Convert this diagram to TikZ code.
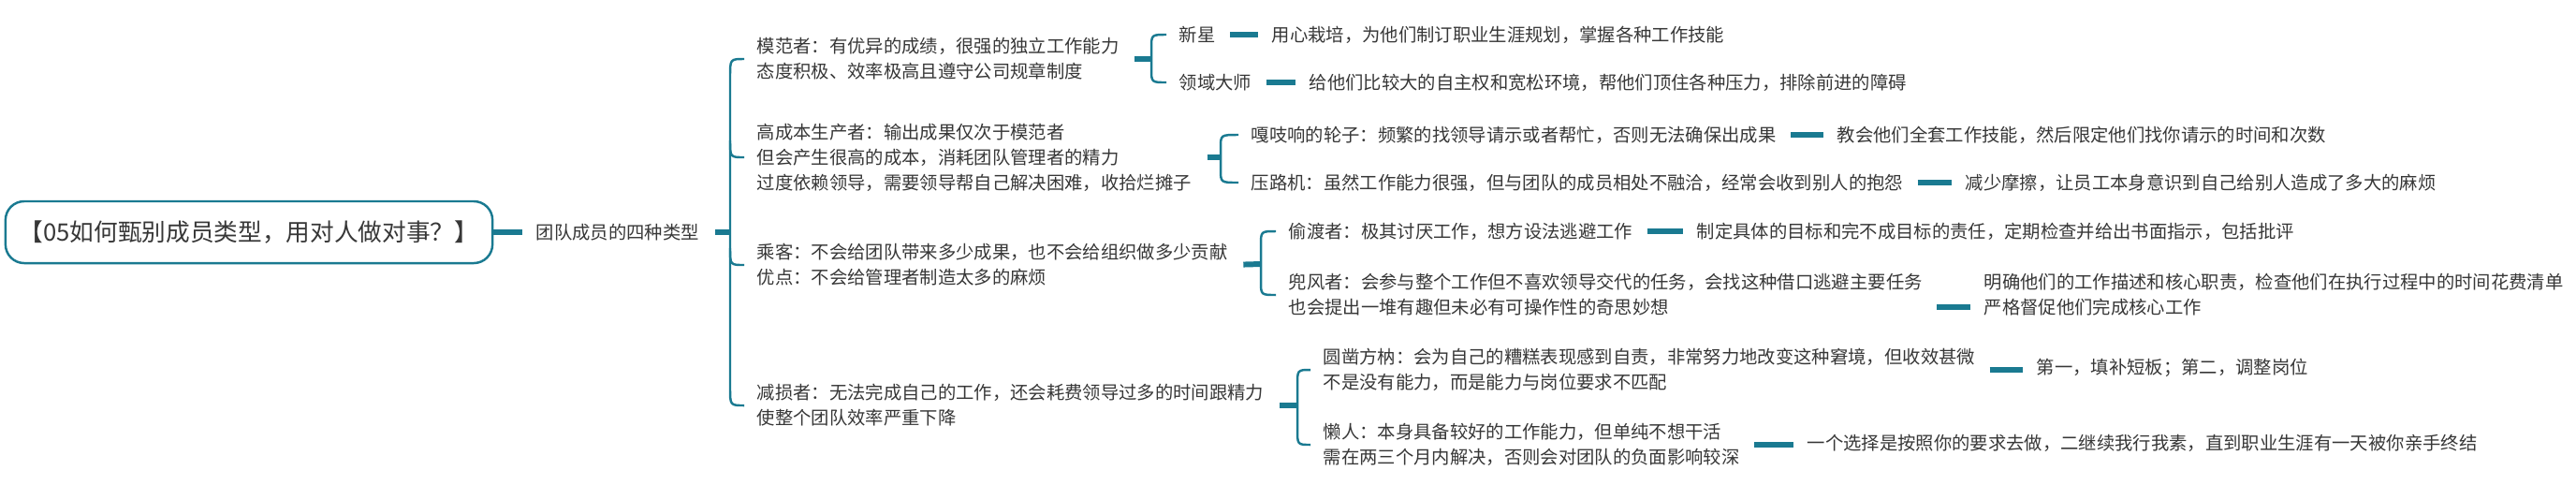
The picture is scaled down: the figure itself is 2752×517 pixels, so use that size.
\documentclass[tikz,border=0pt]{standalone}
\usepackage{fontspec}
\newfontfamily\cjk{Noto Sans CJK SC}
\definecolor{teal}{RGB}{26,122,145}
\definecolor{ink}{RGB}{55,55,55}

\begin{document}
\begin{tikzpicture}[x=0.01cm, y=-0.01cm,
    txt/.style={anchor=west, inner sep=0pt, align=left, text=ink,
      font=\cjk\fontsize{5.5pt}{7.7pt}\selectfont},
    rootbox/.style={draw=teal, line width=0.7pt, rounded corners=0.2cm,
      minimum width=5.2cm, minimum height=0.66cm, inner sep=0pt, text=ink,
      font=\cjk\fontsize{7.3pt}{9pt}\selectfont},
    conn/.style={teal, line width=1.7pt, shorten <=0.15cm, shorten >=0.14cm},
    stub/.style={teal, line width=1.7pt, shorten <=0.16cm},
    brace/.style={teal, line width=0.7pt}
  ]
  \useasboundingbox (0,0) rectangle (2752,517);

  % -- 1. ROOT --
  \node[rootbox] (root) at (266,248) {【05如何甄别成员类型，用对人做对事？】};
  \node[txt] (types) at (572,248) {团队成员的四种类型};
  \draw[teal, line width=1.7pt, shorten >=0.14cm] (root.east) -- (types.west);

  % -- 2. FOUR TYPES --
  \node[txt] (m1) at (808,63) {模范者：有优异的成绩，很强的独立工作能力\\态度积极、效率极高且遵守公司规章制度};
  \node[txt] (m2) at (808,168) {高成本生产者：输出成果仅次于模范者\\但会产生很高的成本，消耗团队管理者的精力\\过度依赖领导，需要领导帮自己解决困难，收拾烂摊子};
  \node[txt] (m3) at (808,283) {乘客：不会给团队带来多少成果，也不会给组织做多少贡献\\优点：不会给管理者制造太多的麻烦};
  \node[txt] (m4) at (808,433) {减损者：无法完成自己的工作，还会耗费领导过多的时间跟精力\\使整个团队效率严重下降};

  \coordinate (b1) at (780,248);
  \draw[stub] (types.east) -- (b1);
  \draw[brace] ([xshift=-0.13cm]m1.west) .. controls (780,63) .. (780,82) -- (780,414)
    .. controls (780,433) .. ([xshift=-0.13cm]m4.west);
  \draw[brace] (780,150) .. controls (780,168) .. ([xshift=-0.13cm]m2.west);
  \draw[brace] (780,265) .. controls (780,283) .. ([xshift=-0.13cm]m3.west);

  % -- 3. SUB TYPES --
  % model
  \node[txt] (s1) at (1259,37) {新星};
  \node[txt] (s2) at (1259,88) {领域大师};
  \coordinate (b2) at (1230,63);
  \draw[stub] (m1.east) -- (b2);
  \draw[brace] ([xshift=-0.13cm]s1.west) .. controls (1230,37) .. (1230,52) -- (1230,73)
    .. controls (1230,88) .. ([xshift=-0.13cm]s2.west);
  \node[txt] (l1) at (1358,37) {用心栽培，为他们制订职业生涯规划，掌握各种工作技能};
  \node[txt] (l2) at (1398,88) {给他们比较大的自主权和宽松环境，帮他们顶住各种压力，排除前进的障碍};
  \draw[conn] (s1.east) -- (l1.west);
  \draw[conn] (s2.east) -- (l2.west);

  % high cost
  \node[txt] (c1) at (1336,144) {嘎吱响的轮子：频繁的找领导请示或者帮忙，否则无法确保出成果};
  \node[txt] (c2) at (1336,195) {压路机：虽然工作能力很强，但与团队的成员相处不融洽，经常会收到别人的抱怨};
  \coordinate (b3) at (1304,168);
  \draw[stub] (m2.east) -- (b3);
  \draw[brace] ([xshift=-0.13cm]c1.west) .. controls (1304,144) .. (1304,158) -- (1304,181)
    .. controls (1304,195) .. ([xshift=-0.13cm]c2.west);
  \node[txt] (l3) at (1962,144) {教会他们全套工作技能，然后限定他们找你请示的时间和次数};
  \node[txt] (l4) at (2099,195) {减少摩擦，让员工本身意识到自己给别人造成了多大的麻烦};
  \draw[conn] (c1.east) -- (l3.west);
  \draw[conn] (c2.east) -- (l4.west);

  % passenger
  \node[txt] (c3) at (1376,247) {偷渡者：极其讨厌工作，想方设法逃避工作};
  \node[txt] (c4) at (1376,315) {兜风者：会参与整个工作但不喜欢领导交代的任务，会找这种借口逃避主要任务\\也会提出一堆有趣但未必有可操作性的奇思妙想};
  \coordinate (b4) at (1347,282);
  \draw[stub] (m3.east) -- (b4);
  \draw[brace] ([xshift=-0.13cm]c3.west) .. controls (1347,247) .. (1347,262) -- (1347,300)
    .. controls (1347,315) .. ([xshift=-0.13cm]c4.west);
  \node[txt] (l5) at (1812,247) {制定具体的目标和完不成目标的责任，定期检查并给出书面指示，包括批评};
  \node[txt] (l6) at (2119,315) {明确他们的工作描述和核心职责，检查他们在执行过程中的时间花费清单\\严格督促他们完成核心工作};
  \draw[conn] (c3.east) -- (l5.west);
  \draw[conn] ([yshift=-0.13cm]c4.east) -- ([yshift=-0.13cm]c4.east -| l6.west);

  % loss maker
  \node[txt] (c5) at (1413,395) {圆凿方枘：会为自己的糟糕表现感到自责，非常努力地改变这种窘境，但收效甚微\\不是没有能力，而是能力与岗位要求不匹配};
  \node[txt] (c6) at (1413,475) {懒人：本身具备较好的工作能力，但单纯不想干活\\需在两三个月内解决，否则会对团队的负面影响较深};
  \coordinate (b5) at (1386,433);
  \draw[stub] (m4.east) -- (b5);
  \draw[brace] ([xshift=-0.13cm]c5.west) .. controls (1386,395) .. (1386,412) -- (1386,458)
    .. controls (1386,475) .. ([xshift=-0.13cm]c6.west);
  \node[txt] (l7) at (2175,393) {第一，填补短板；第二，调整岗位};
  \node[txt] (l8) at (1930,473) {一个选择是按照你的要求去做，二继续我行我素，直到职业生涯有一天被你亲手终结};
  \draw[conn] (c5.east) -- (c5.east -| l7.west);
  \draw[conn] (c6.east) -- (c6.east -| l8.west);
\end{tikzpicture}
\end{document}
